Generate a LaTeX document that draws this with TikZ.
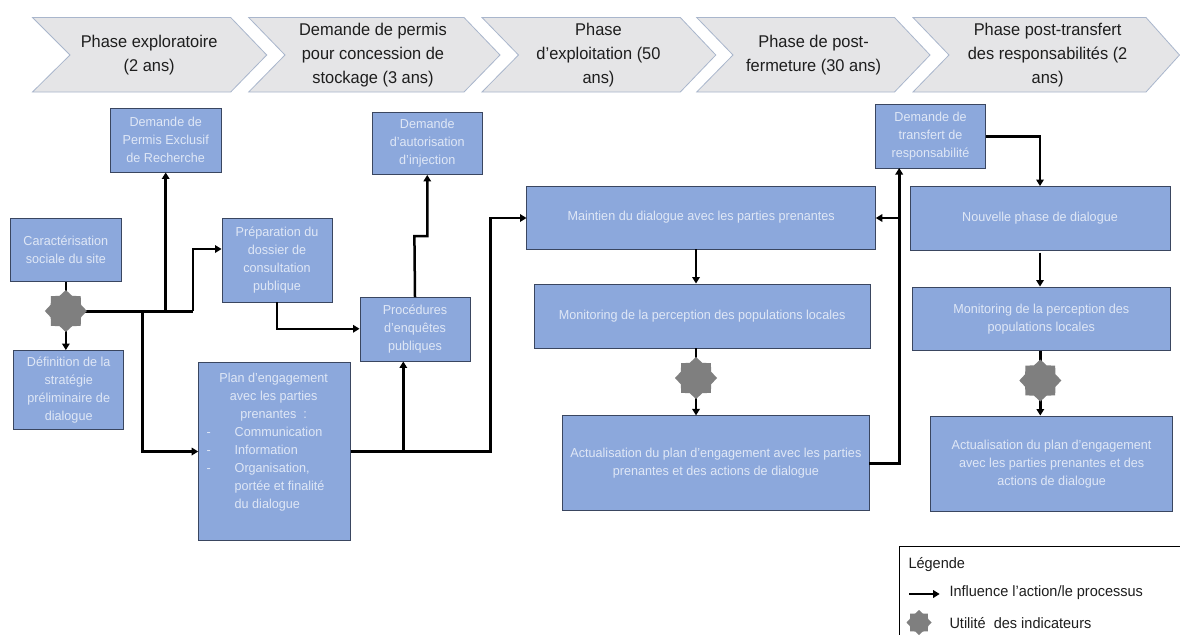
\documentclass[tikz,border=0pt]{standalone}
\usepackage{fontspec}
\setmainfont{Liberation Sans}
\newfontfamily\boxf[FakeStretch=0.97]{Liberation Sans}
\newfontfamily\chevf[FakeStretch=0.965]{Liberation Sans}
\newfontfamily\legf[FakeStretch=0.967]{Liberation Sans}
\usetikzlibrary{arrows.meta,shapes.geometric,calc}
\definecolor{boxfill}{HTML}{8CA8DC}
\definecolor{boxline}{HTML}{3A4660}
\definecolor{boxtext}{HTML}{DFE7F6}
\definecolor{chevfill}{HTML}{E5E5E7}
\definecolor{chevline}{HTML}{A9B6CC}
\definecolor{stargray}{HTML}{7F7F7F}
\definecolor{headtext}{HTML}{1E1E1E}
\tikzset{
  bx/.style={draw=boxline,line width=0.9pt,fill=boxfill,text=boxtext,inner sep=0pt,align=center,
    font=\boxf\fontsize{13}{18}\selectfont},
  chevtext/.style={text=headtext,align=center,inner sep=0pt,font=\chevf\fontsize{17}{24}\selectfont},
  chev/.style={draw=chevline,line width=0.8pt,fill=chevfill},
  indic/.style={star,star points=8,star point ratio=1.28,fill=stargray,inner sep=0pt,minimum size=42pt},
  conn/.style={draw=black,line width=2.5pt,line cap=butt,line join=miter},
  arr/.style={conn,-{Triangle[length=6.5pt,width=7.5pt]}},
  legt/.style={text=headtext,anchor=west,inner sep=0pt,font=\legf\fontsize{15}{18}\selectfont},
}
\begin{document}
\begin{tikzpicture}[x=1pt,y=-1pt]
\useasboundingbox (0,0) rectangle (1180,635);
\fill[white] (0,0) rectangle (1180,635);
% chevrons
\draw[chev] (32.5,17.5) -- (230.7,17.5) -- (266.7,55) -- (230.7,92) -- (32.5,92) -- (70,55) -- cycle;
\draw[chev] (248.7,17.5) -- (464,17.5) -- (500,55) -- (464,92) -- (248.7,92) -- (285,55) -- cycle;
\draw[chev] (482,17.5) -- (680.3,17.5) -- (715.8,55) -- (680.3,92) -- (482,92) -- (518.5,55) -- cycle;
\draw[chev] (696.7,17.5) -- (894.5,17.5) -- (930,55) -- (894.5,92) -- (696.7,92) -- (733,55) -- cycle;
\draw[chev] (913,17.5) -- (1146,17.5) -- (1179.5,55) -- (1146,92) -- (913,92) -- (949,55) -- cycle;
\node[chevtext] (c1) at (149.2,55) {Phase exploratoire\\(2 ans)};
\node[chevtext] (c2) at (373,55) {Demande de permis\\pour concession de\\stockage (3 ans)};
\node[chevtext] (c3) at (598.5,55) {Phase\\d’exploitation (50\\ans)};
\node[chevtext] (c4) at (813.6,55) {Phase de post-\\fermeture (30 ans)};
\node[chevtext] (c5) at (1047.6,55) {Phase post-transfert\\des responsabilités (2\\ans)};
% boxes
\node[bx,minimum width=111pt,minimum height=64pt] (permis) at (165.7,140) {Demande de\\Permis Exclusif\\de Recherche};
\node[bx,minimum width=110pt,minimum height=62.5pt] (inj) at (427.25,143.25) {Demande\\d’autorisation\\d’injection};
\node[bx,minimum width=110.3pt,minimum height=63.5pt] (carac) at (65.85,249.75) {Caractérisation\\sociale du site};
\node[bx,minimum width=110pt,minimum height=84pt] (prep) at (277,260) {Préparation du\\dossier de\\consultation\\publique};
\node[bx,minimum width=110pt,minimum height=63.5pt] (proc) at (415,329.25) {Procédures\\d’enquêtes\\publiques};
\node[bx,minimum width=109.8pt,minimum height=79pt] (def) at (68.7,390) {Définition de la\\stratégie\\préliminaire de\\dialogue};
\node[bx,minimum width=152.3pt,minimum height=178pt] (plan) at (274.35,451) {};
\node[text=boxtext,inner sep=0pt,anchor=north west,font=\boxf\fontsize{13}{18}\selectfont] (plantxt) at (206.5,370) {%
  \begin{tabular}{@{}p{6pt}@{\hspace{22pt}}l@{}}
  \multicolumn{2}{@{}p{134pt}@{}}{\centering Plan d’engagement}\\[0pt]
  \multicolumn{2}{@{}p{134pt}@{}}{\centering avec les parties}\\[0pt]
  \multicolumn{2}{@{}p{134pt}@{}}{\centering prenantes~~:}\\[0pt]
  -&Communication\\
  -&Information\\
  -&Organisation,\\
  &portée et finalité\\
  &du dialogue
  \end{tabular}};
\node[bx,minimum width=349.3pt,minimum height=63pt] (maint) at (701.15,217.5) {Maintien du dialogue avec les parties prenantes};
\node[bx,minimum width=335.8pt,minimum height=64pt] (mon) at (702.1,316) {Monitoring de la perception des populations locales};
\node[bx,minimum width=306.8pt,minimum height=95pt] (act) at (715.9,463.35) {Actualisation du plan d’engagement avec les parties\\prenantes et des actions de dialogue};
\node[bx,minimum width=109.4pt,minimum height=63.5pt] (transf) at (930.5,136.25) {Demande de\\transfert de\\responsabilité};
\node[bx,minimum width=260pt,minimum height=63.5pt] (nouv) at (1040,218.25) {Nouvelle phase de dialogue};
\node[bx,minimum width=257.5pt,minimum height=63.5pt] (mon2) at (1041.25,318.75) {Monitoring de la perception des\\populations locales};
\node[bx,minimum width=242.2pt,minimum height=95.5pt] (act2) at (1051.6,463.75) {Actualisation du plan d’engagement\\avec les parties prenantes et des\\actions de dialogue};
% coordinates
\coordinate (a) at (65.85,311);
\coordinate (b) at (696,378);
\coordinate (e) at (1040.3,380.5);
\coordinate (j1) at (142.4,311);
\coordinate (j2) at (165.7,311);
\coordinate (j3) at (193.2,311);
\coordinate (pl) at (198.2,451.5);
\coordinate (pr) at (350.5,451.5);
\coordinate (j4) at (403.3,451.5);
\coordinate (j5) at (490.6,451.5);
\coordinate (mw) at (526.5,218);
\coordinate (ar) at (869.3,463);
\coordinate (j6) at (899.2,463);
\coordinate (j7) at (899.2,218);
\coordinate (tb) at (899.2,168);
\coordinate (me) at (875.8,218);
% connectors
\draw[conn] (carac.south) -- (a);
\draw[arr] (a) -- (def.north -| a);
\draw[conn,line width=3pt] (a) -- (j3);
\draw[arr] (j3) |- ([yshift=11pt]prep.west);
\draw[arr] (j2) -- (permis.south);
\draw[arr] (j1) |- (pl);
\draw[arr] (prep.south) |- ([yshift=0.5pt]proc.west);
\draw[arr] (proc.north) -- (414.4,236) -- (427.25,236) -- (inj.south);
\draw[conn,line width=3.2pt] (pr) -- (j4);
\draw[arr] (j4) -- (proc.south -| j4);
\draw[arr] (j4) -- (j5) |- (mw);
\draw[arr] (maint.south -| b) -- (mon.north -| b);
\draw[conn] (mon.south -| b) -- (b);
\draw[arr] (b) -- (act.north -| b);
\draw[conn,line width=3pt] (ar) -- (j6) -- (j7);
\draw[arr,line width=3pt] (j7) -- (tb);
\draw[arr,line width=2pt] (j7) -- (me);
\draw[arr] (transf.east) -| (nouv.north);
\draw[arr] (1040,252.5) -- (mon2.north -| nouv);
\draw[conn] (mon2.south -| e) -- (e);
\draw[arr] (e) -- (act2.north -| e);
% stars
\node[indic] (s1) at (a) {};
\node[indic] (s2) at (b) {};
\node[indic] (s3) at (e) {};
% legend
\draw[black,line width=0.7pt] (1180,546.5) -- (899.5,546.5) -- (899.5,635);
\node[legt] (lg) at (908.3,565) {Légende};
\coordinate (la) at (909,594);
\coordinate (lb) at (939.7,594);
\draw[arr] (la) -- (lb);
\node[legt] (l1) at (949.3,593) {Influence l’action/le processus};
\node[indic,minimum size=25pt] (s4) at (919,622.5) {};
\node[legt] (l2) at (949.3,623) {Utilité~ des indicateurs};
\end{tikzpicture}
\end{document}
